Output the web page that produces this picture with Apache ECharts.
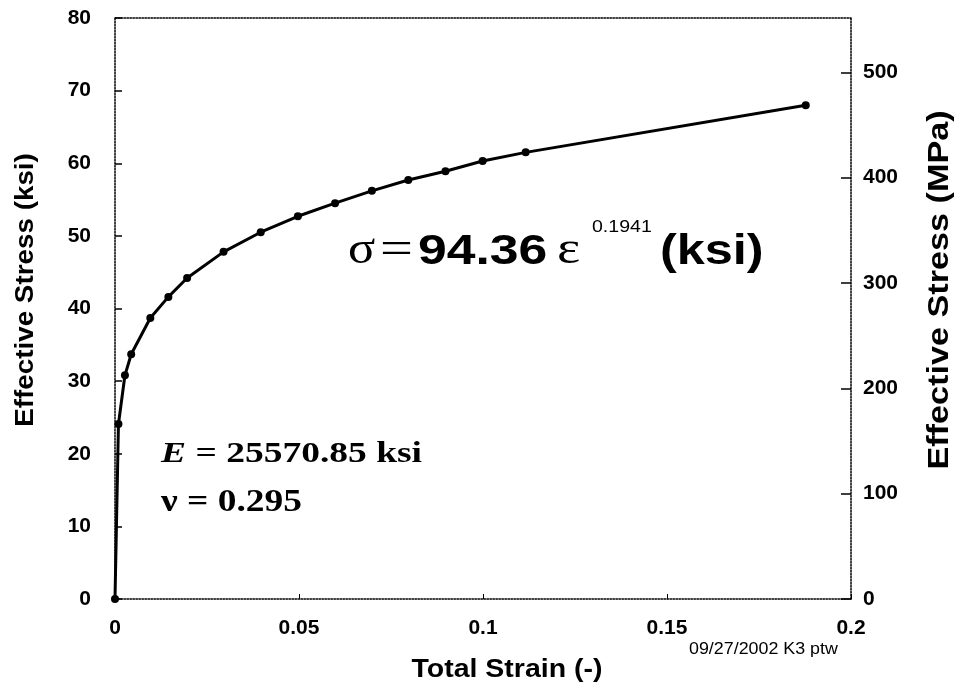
<!DOCTYPE html>
<html><head><meta charset="utf-8">
<script src="https://cdn.jsdelivr.net/npm/echarts@6/dist/echarts.min.js"></script>
<style>html,body{margin:0;padding:0;background:#fff}#c{width:958px;height:691px}</style>
</head><body><div id="c"></div>
<script>
const strain = [0, 0.00094, 0.0027, 0.0044, 0.0096, 0.0145, 0.0196, 0.0295, 0.0396, 0.0497, 0.0598, 0.0698, 0.0797, 0.0898, 0.0999, 0.1116, 0.1877];
const stressKsi = [0, 24.1, 30.8, 33.7, 38.7, 41.6, 44.2, 47.8, 50.5, 52.7, 54.5, 56.2, 57.7, 58.9, 60.3, 61.5, 68.0];
const KSI_TO_MPA = 6.894757;
const ksiMax = 80;
const xTitle = 'Total Strain (-)';
const yTitleLeft = 'Effective Stress (ksi)';
const yTitleRight = 'Effective Stress (MPa)';

const chart = echarts.init(document.getElementById('c'));
const F = 'Liberation Sans, Arial, sans-serif';
const T = 'Liberation Serif, Times New Roman, serif';
const lbl = {fontFamily: F, fontWeight: 'bold', fontSize: 21, color: '#000'};
const axLine = {show: true, onZero: false, lineStyle: {color: '#000', width: 1.5, type: 'dotted'}};
function txt(x, y, text, font, size, weight, scaleX, extra) {
  return Object.assign({type: 'text', x: x, y: y, scaleX: scaleX || 1, style: {
    text: text, fontFamily: font, fontSize: size, fontWeight: weight || 'normal', fill: '#000',
    align: 'left', verticalAlign: 'middle'
  }}, extra || {});
}
chart.setOption({
  animation: false,
  grid: {left: 115, right: 107, top: 18, bottom: 92},
  xAxis: [{
    type: 'value', min: 0, max: 0.2, interval: 0.05, position: 'bottom',
    axisLine: axLine, axisTick: {show: true, inside: true, length: 5, lineStyle: {color: '#000'}},
    splitLine: {show: false},
    axisLabel: Object.assign({margin: 19}, lbl)
  }, {
    type: 'value', min: 0, max: 0.2, interval: 0.05, position: 'top',
    axisLine: axLine, axisTick: {show: false},
    splitLine: {show: false}, axisLabel: {show: false}
  }],
  yAxis: [{
    type: 'value', min: 0, max: ksiMax, interval: 10, position: 'left',
    axisLine: axLine, axisTick: {show: true, inside: true, length: 7, lineStyle: {color: '#000', width: 1.5}},
    splitLine: {show: false},
    axisLabel: Object.assign({margin: 24}, lbl)
  }, {
    type: 'value', min: 0, max: ksiMax * KSI_TO_MPA, interval: 100, position: 'right',
    axisLine: axLine, axisTick: {show: true, inside: true, length: 10, lineStyle: {color: '#000', width: 1.5}},
    splitLine: {show: false},
    axisLabel: Object.assign({margin: 12, showMaxLabel: false}, lbl)
  }],
  series: [{
    type: 'line', xAxisIndex: 0, yAxisIndex: 0,
    data: strain.map((s, i) => [s, stressKsi[i]]),
    symbol: 'circle', symbolSize: 8,
    lineStyle: {color: '#000', width: 3},
    itemStyle: {color: '#000'}
  }],
  graphic: [
    // axis titles
    {type: 'text', x: 26, y: 290, rotation: Math.PI / 2, scaleX: 1.07, style: {
      text: yTitleLeft, fontFamily: F, fontWeight: 'bold', fontSize: 26, fill: '#000', align: 'center', verticalAlign: 'middle'}},
    {type: 'text', x: 940, y: 290, rotation: Math.PI / 2, scaleX: 1.14, style: {
      text: yTitleRight, fontFamily: F, fontWeight: 'bold', fontSize: 30, fill: '#000', align: 'center', verticalAlign: 'middle'}},
    {type: 'text', x: 507, y: 670, scaleX: 1.14, style: {
      text: xTitle, fontFamily: F, fontWeight: 'bold', fontSize: 25, fill: '#000', align: 'center', verticalAlign: 'middle'}},
    // power-law formula
    txt(348, 251, 'σ', T, 46, 'normal', 1.1),
    txt(380, 251, '=', T, 46, 'normal', 1.27),
    txt(418, 252, '94.36', F, 42, 'bold', 1.23),
    txt(557, 251, 'ε', T, 46, 'normal', 1.2),
    txt(592, 227, '0.1941', F, 17, 'normal', 1.15),
    txt(660, 252, '(ksi)', F, 42, 'bold', 1.2),
    // material constants
    {type: 'text', x: 161, y: 454, scaleX: 1.25, style: {
      rich: {
        i: {fontFamily: T, fontStyle: 'italic', fontWeight: 'bold', fontSize: 30, color: '#000'},
        t: {fontFamily: T, fontWeight: 'bold', fontSize: 30, color: '#000'}
      },
      text: '{i|E}{t| = 25570.85 ksi}', align: 'left', verticalAlign: 'middle'
    }},
    txt(161, 503, 'ν = 0.295', T, 32, 'bold', 1.17),
    txt(689, 649, '09/27/2002 K3 ptw', F, 17, 'normal', 1.05)
  ]
});
</script></body></html>
